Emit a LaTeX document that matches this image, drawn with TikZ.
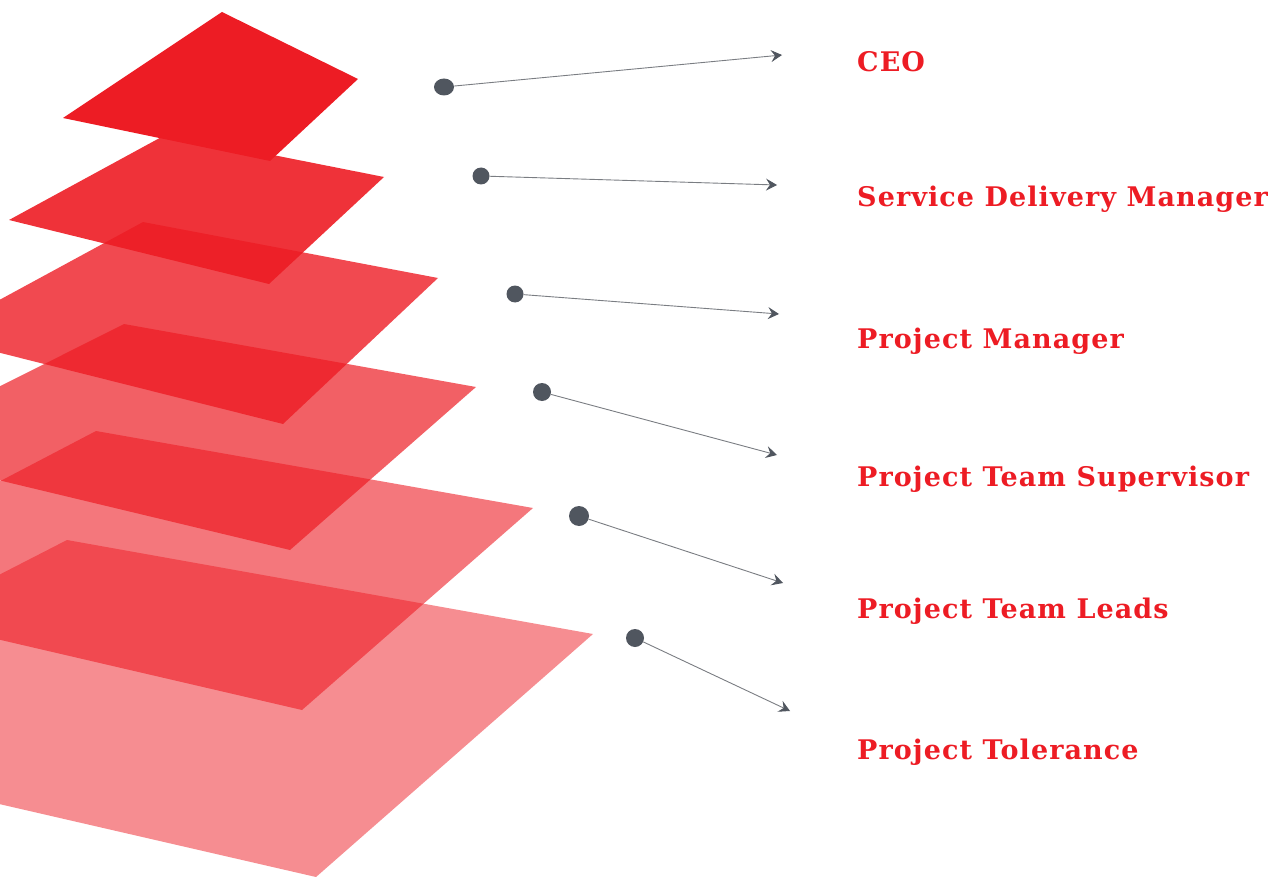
\documentclass[tikz,border=0pt]{standalone}
\usepackage{fontspec}
\setmainfont{DejaVu Serif}
\newfontfamily\lblfont[LetterSpace=4]{DejaVu Serif}
\usetikzlibrary{arrows.meta,shapes.geometric}
\definecolor{lred}{HTML}{ED1C24}
\definecolor{dotgray}{HTML}{50565F}
\definecolor{linegray}{HTML}{7A7D82}
\begin{document}
\begin{tikzpicture}[x=1pt,y=-1pt,
  layer/.style={fill=lred, fill opacity=#1, draw=none},
  dot/.style={ellipse, fill=dotgray, draw=none, inner sep=0pt, minimum width=#1, minimum height=#1},
  lbl/.style={anchor=base west, text=lred, inner sep=0pt, font=\lblfont\bfseries\fontsize{27}{31}\selectfont},
  conn/.style={draw=linegray, line width=0.9pt, -{Stealth[length=11pt,width=12pt,inset=4pt,color=dotgray]}}
]
\useasboundingbox (0,0) rectangle (1284,877);
\begin{scope}
\clip (0,0) rectangle (1284,877);
\fill[layer=0.5] (-309,733) -- (67,540) -- (593,634) -- (316,877) -- cycle;
\fill[layer=0.6] (-210,591) -- (96,431) -- (533,508) -- (302,710) -- cycle;
\fill[layer=0.7] (-127,450) -- (124,324) -- (476,387) -- (290,550) -- cycle;
\fill[layer=0.8] (-67,336) -- (143,222) -- (438,278) -- (283,424) -- cycle;
\fill[layer=0.9] (9,220) -- (167,134) -- (384,177) -- (269,284) -- cycle;
\fill[layer=1] (63,118) -- (222,12) -- (358,79) -- (270,161) -- cycle;
\end{scope}

\node[dot=17pt, minimum width=20pt] (d1) at (444,87) {};
\node[dot=17pt] (d2) at (481,176) {};
\node[dot=17pt] (d3) at (515,294) {};
\node[dot=18pt] (d4) at (542,392) {};
\node[dot=20pt] (d5) at (579,516) {};
\node[dot=18pt] (d6) at (635,638) {};

\coordinate (t1) at (782,55);
\coordinate (t2) at (777,185);
\coordinate (t3) at (779,314);
\coordinate (t4) at (777,455);
\coordinate (t5) at (783,583);
\coordinate (t6) at (790,711);

\draw[conn] (d1) -- (t1);
\draw[conn] (d2) -- (t2);
\draw[conn] (d3) -- (t3);
\draw[conn] (d4) -- (t4);
\draw[conn] (d5) -- (t5);
\draw[conn] (d6) -- (t6);

\node[lbl] (l1) at (857,72) {CEO};
\node[lbl] (l2) at (857,207) {Service Delivery Manager};
\node[lbl] (l3) at (857,348) {Project Manager};
\node[lbl] (l4) at (857,486) {Project Team Supervisor};
\node[lbl] (l5) at (857,618) {Project Team Leads};
\node[lbl] (l6) at (857,759) {Project Tolerance};
\end{tikzpicture}
\end{document}
